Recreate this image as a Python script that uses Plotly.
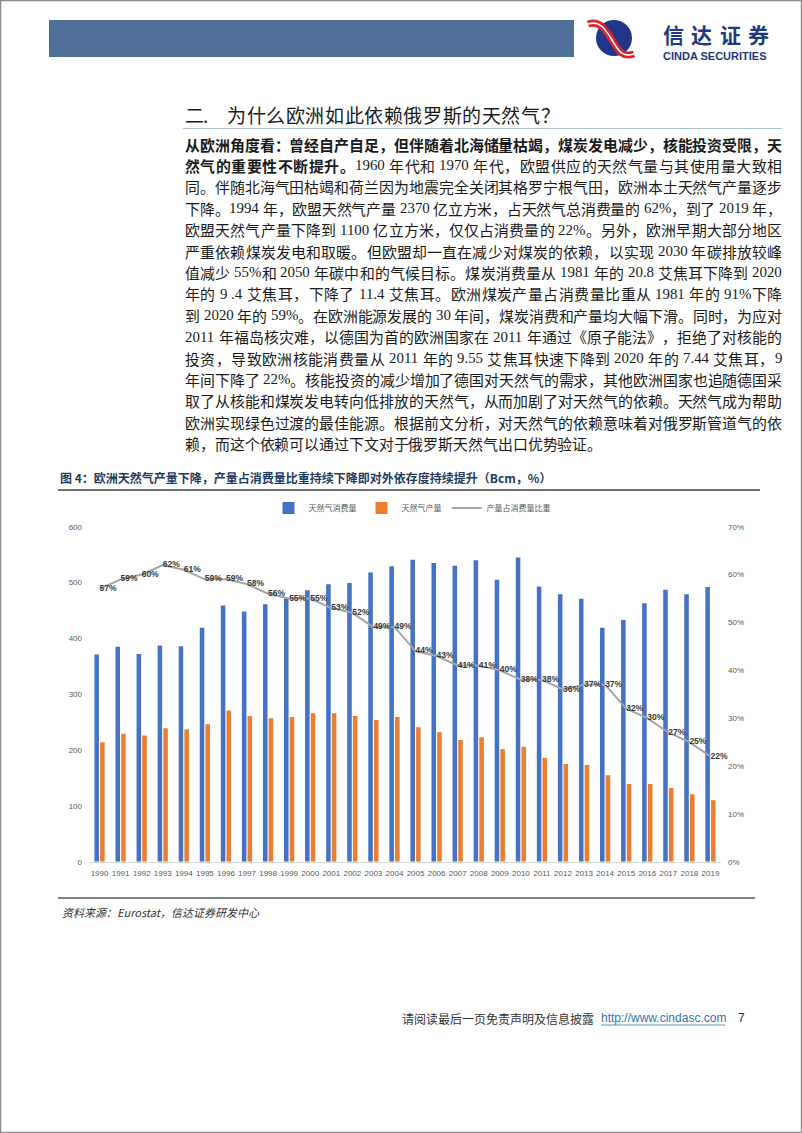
import plotly.graph_objects as go

# ---------------- data ----------------
years = ["1990", "1991", "1992", "1993", "1994", "1995", "1996", "1997", "1998", "1999",
         "2000", "2001", "2002", "2003", "2004", "2005", "2006", "2007", "2008", "2009",
         "2010", "2011", "2012", "2013", "2014", "2015", "2016", "2017", "2018", "2019"]
consumption = [371, 385, 372, 387, 386, 419, 459, 448, 461, 472,
               486, 497, 499, 518, 529, 541, 535, 530, 540, 505,
               545, 493, 479, 471, 419, 433, 463, 487, 479, 492]
production = [214, 229, 226, 239, 237, 246, 271, 261, 257, 259,
              266, 266, 261, 254, 259, 241, 232, 218, 223, 202,
              206, 186, 175, 173, 155, 139, 139, 132, 121, 110]
ratio_pct = [57, 59, 60, 62, 61, 59, 59, 58, 56, 55,
             55, 53, 52, 49, 49, 44, 43, 41, 41, 40,
             38, 38, 36, 37, 37, 32, 30, 27, 25, 22]
series_names = ["天然气消费量", "天然气产量", "产量占消费量比重"]
left_ticks = [0, 100, 200, 300, 400, 500, 600]
right_ticks = [0, 0.1, 0.2, 0.3, 0.4, 0.5, 0.6, 0.7]

heading = "二.为什么欧洲如此依赖俄罗斯的天然气？"
paragraph = [
    ("从欧洲角度看：曾经自产自足，但伴随着北海储量枯竭，煤炭发电减少，核能投资受限，天", ""),
    ("然气的重要性不断提升。", "1960 年代和 1970 年代，欧盟供应的天然气量与其使用量大致相"),
    ("", "同。伴随北海气田枯竭和荷兰因为地震完全关闭其格罗宁根气田，欧洲本土天然气产量逐步"),
    ("", "下降。1994 年，欧盟天然气产量 2370 亿立方米，占天然气总消费量的 62%，到了 2019 年，"),
    ("", "欧盟天然气产量下降到 1100 亿立方米，仅仅占消费量的 22%。另外，欧洲早期大部分地区"),
    ("", "严重依赖煤炭发电和取暖。但欧盟却一直在减少对煤炭的依赖，以实现 2030 年碳排放较峰"),
    ("", "值减少 55%和 2050 年碳中和的气候目标。煤炭消费量从 1981 年的 20.8 艾焦耳下降到 2020"),
    ("", "年的 9 .4 艾焦耳，下降了 11.4 艾焦耳。欧洲煤炭产量占消费量比重从 1981 年的 91%下降"),
    ("", "到 2020 年的 59%。在欧洲能源发展的 30 年间，煤炭消费和产量均大幅下滑。同时，为应对"),
    ("", "2011 年福岛核灾难，以德国为首的欧洲国家在 2011 年通过《原子能法》，拒绝了对核能的"),
    ("", "投资，导致欧洲核能消费量从 2011 年的 9.55 艾焦耳快速下降到 2020 年的 7.44 艾焦耳，9"),
    ("", "年间下降了 22%。核能投资的减少增加了德国对天然气的需求，其他欧洲国家也追随德国采"),
    ("", "取了从核能和煤炭发电转向低排放的天然气，从而加剧了对天然气的依赖。天然气成为帮助"),
    ("", "欧洲实现绿色过渡的最佳能源。根据前文分析，对天然气的依赖意味着对俄罗斯管道气的依"),
    ("", "赖，而这个依赖可以通过下文对于俄罗斯天然气出口优势验证。"),
]
caption = "图 4：欧洲天然气产量下降，产量占消费量比重持续下降即对外依存度持续提升（Bcm，%）"
source = "资料来源：Eurostat，信达证券研发中心"
footer_cn = "请阅读最后一页免责声明及信息披露"
footer_url = "http://www.cindasc.com"
page_no = "7"

# ---------------- helpers ----------------
W, H = 802, 1133
CJK = "Noto Sans CJK SC"
SERIF = "Liberation Serif"


def X(px):
    return px / W


def Y(py):
    return 1 - py / H


annotations = []
shapes = []


def text(px, py, s, size, color="#1a1a1a", family=CJK, anchor="left", yanchor="middle"):
    annotations.append(dict(x=X(px), y=Y(py), xref="paper", yref="paper", text=s, showarrow=False,
                            xanchor=anchor, yanchor=yanchor, borderpad=0, borderwidth=0,
                            font=dict(size=size, color=color, family=family)))


def rect(x0, y0, x1, y1, fill, line=None, lw=0):
    shapes.append(dict(type="rect", xref="paper", yref="paper", x0=X(x0), x1=X(x1), y0=Y(y0), y1=Y(y1),
                       fillcolor=fill, line=dict(width=lw, color=line or fill), layer="above"))


def hline(x0, x1, y, color, width):
    shapes.append(dict(type="line", xref="paper", yref="paper", x0=X(x0), x1=X(x1), y0=Y(y), y1=Y(y),
                       line=dict(color=color, width=width), layer="above"))


ASCII_W = {".": 0.25, "%": 0.833, ",": 0.25}


def tokenize(s, bold):
    toks = []
    run = ""
    run_sp = False
    pend = False
    for ch in s:
        if ch == " ":
            if run:
                toks.append((run, True, run_sp, bold))
                run = ""
            pend = True
            continue
        if ord(ch) < 128:
            if not run:
                run_sp = pend
                pend = False
            run += ch
        else:
            if run:
                toks.append((run, True, run_sp, bold))
                run = ""
            toks.append((ch, False, pend, bold))
            pend = False
    if run:
        toks.append((run, True, run_sp, bold))
    return toks


def place_line(bold_part, normal_part, py, x0, x1, fs, justify=True):
    toks = tokenize(bold_part, True) + tokenize(normal_part, False)
    widths = []
    for t, asc, sp, b in toks:
        w = sum(ASCII_W.get(c, 0.5) for c in t) * fs if asc else fs
        widths.append(w + (0.25 * fs if sp else 0))
    total = sum(widths)
    extra = (x1 - x0 - total) / (len(toks) - 1) if justify and len(toks) > 1 else 0
    x = x0
    for (t, asc, sp, b), w in zip(toks, widths):
        xs = x + (0.25 * fs if sp else 0)
        s = f"<b>{t}</b>" if b else t
        text(xs, py, s, fs, "#1a1a1a", SERIF if asc else CJK)
        x += w + extra


# ---------------- page decoration ----------------
rect(0.5, 0.5, W - 0.5, H - 0.5, "rgba(0,0,0,0)", "#8c8c8c", 1.5)
rect(49, 20, 574, 57, "#4E6F97")

# logo (globe + ribbon)
shapes.append(dict(type="circle", xref="paper", yref="paper", x0=X(596), x1=X(632), y0=Y(56), y1=Y(20),
                   fillcolor="#22378a", line=dict(width=0), layer="above"))
logo_path = (f"M {X(588)},{Y(24)} C {X(600)},{Y(20)} {X(606)},{Y(30)} {X(612)},{Y(40)} "
             f"S {X(622)},{Y(58)} {X(634)},{Y(54)}")
shapes.append(dict(type="path", xref="paper", yref="paper", path=logo_path,
                   line=dict(color="#d7262e", width=7), layer="above"))
shapes.append(dict(type="path", xref="paper", yref="paper", path=logo_path,
                   line=dict(color="#ffffff", width=1.5), layer="above"))
for i, ch in enumerate("信达证券"):
    text(663 + i * 28.3, 33.5, f"<b>{ch}</b>", 21, "#1d3a7c")
text(663, 55.5, "<b>CINDA SECURITIES</b>", 11, "#1d3a7c", "Liberation Sans Narrow, Liberation Sans")

# heading
text(185, 114, "二", 19)
text(203, 114, ".", 19)
for i, ch in enumerate(heading[2:]):
    text(227 + i * 19.6, 114, ch, 19)
hline(183, 782, 128.5, "#a9bfd9", 1.2)

# paragraph
for i, (b, n) in enumerate(paragraph):
    place_line(b, n, 144 + i * 21.4, 185, 782, 14.9, justify=(i < len(paragraph) - 1))

# caption, rules, source
text(60, 477, f"<b>{caption}</b>", 12, "#1f3a60")
hline(58, 760, 490, "#404040", 1.5)
hline(58, 755, 898, "#595959", 1.5)
text(62, 912, f"<i>{source}</i>", 11, "#333333")

# footer
text(402, 1018, footer_cn, 12, "#333333")
text(601, 1018, footer_url, 12, "#2e74b5", "Liberation Sans")
hline(601, 725, 1025, "#2e74b5", 0.8)
text(738, 1018, page_no, 12, "#333333", "Liberation Sans")

# ---------------- chart ----------------
fig = go.Figure()
fig.add_bar(x=years, y=consumption, name=series_names[0], marker=dict(color="#4472C4", line=dict(width=0)))
fig.add_bar(x=years, y=production, name=series_names[1], marker=dict(color="#ED7D31", line=dict(width=0)))
fig.add_scatter(x=years, y=[v / 100 for v in ratio_pct], name=series_names[2], yaxis="y2",
                mode="lines+text", line=dict(color="#A5A5A5", width=2), cliponaxis=False,
                text=[f"{v}%" for v in ratio_pct], texttemplate="<b>%{text}</b>",
                textposition="middle right",
                textfont=dict(size=8.5, color="#3a3a3a", family="Liberation Sans"))

tickfont = dict(size=8, color="#595959", family="Liberation Sans")
fig.update_layout(
    width=W, height=H, margin=dict(l=0, r=0, t=0, b=0, autoexpand=False),
    paper_bgcolor="white", plot_bgcolor="white",
    barmode="group", bargap=0.46, bargroupgap=0.2,
    showlegend=True,
    legend=dict(orientation="h", x=X(412), y=Y(508), xanchor="center", yanchor="middle",
                font=dict(size=8, color="#595959", family=CJK), itemwidth=30,
                bgcolor="rgba(0,0,0,0)"),
    xaxis=dict(domain=[X(89), X(721)], type="category", range=[-0.5, 29.5], showline=True,
               linecolor="#D9D9D9", linewidth=1, ticks="", tickfont=tickfont, tickangle=0,
               showgrid=False, ticklabelstandoff=4),
    yaxis=dict(domain=[Y(861.7), Y(526.7)], range=[0, 600], tickvals=left_ticks, showgrid=False,
               zeroline=False, showline=False, tickfont=tickfont, ticks="", ticklabelstandoff=6),
    yaxis2=dict(overlaying="y", side="right", range=[0, 0.7], tickvals=right_ticks, tickformat=".0%",
                showgrid=False, zeroline=False, showline=False, tickfont=tickfont, ticks="",
                ticklabelstandoff=6),
    annotations=annotations, shapes=shapes,
)

fig.write_html("out.html", config={"displayModeBar": False},
               post_script="document.body.style.margin='0px';document.body.style.overflow='hidden';")
